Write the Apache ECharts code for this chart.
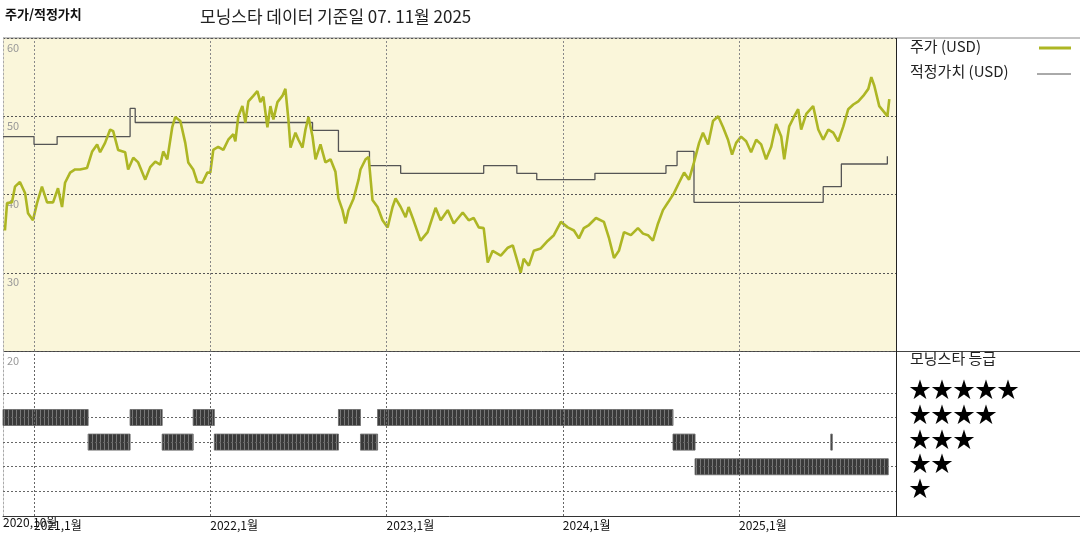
<!DOCTYPE html>
<html><head><meta charset="utf-8">
<script src="https://cdn.jsdelivr.net/npm/echarts@6/dist/echarts.min.js"></script>
<style>html,body{margin:0;padding:0;background:#fff}#c{width:1080px;height:540px}</style>
</head><body><div id="c"></div>
<script>
// time as decimal year
const priceDates = [2020.835,2020.847,2020.875,2020.892,2020.920,2020.949,2020.966,2020.994,2021.017,2021.045,2021.074,2021.108,2021.136,2021.159,2021.176,2021.205,2021.233,2021.261,2021.301,2021.330,2021.358,2021.375,2021.403,2021.432,2021.449,2021.477,2021.517,2021.534,2021.563,2021.591,2021.631,2021.659,2021.688,2021.716,2021.733,2021.756,2021.784,2021.801,2021.830,2021.858,2021.875,2021.903,2021.926,2021.955,2021.983,2022.000,2022.017,2022.045,2022.074,2022.102,2022.131,2022.142,2022.159,2022.182,2022.199,2022.216,2022.244,2022.267,2022.284,2022.301,2022.324,2022.341,2022.358,2022.381,2022.409,2022.426,2022.443,2022.455,2022.483,2022.500,2022.523,2022.540,2022.557,2022.580,2022.597,2022.625,2022.653,2022.682,2022.710,2022.727,2022.750,2022.767,2022.784,2022.813,2022.841,2022.852,2022.881,2022.898,2022.920,2022.949,2022.977,2023.006,2023.034,2023.051,2023.080,2023.108,2023.125,2023.153,2023.193,2023.233,2023.278,2023.307,2023.347,2023.381,2023.432,2023.466,2023.494,2023.523,2023.551,2023.574,2023.602,2023.648,2023.688,2023.716,2023.733,2023.761,2023.778,2023.807,2023.835,2023.875,2023.915,2023.949,2023.989,2024.028,2024.063,2024.091,2024.119,2024.148,2024.188,2024.233,2024.261,2024.290,2024.318,2024.347,2024.386,2024.426,2024.455,2024.483,2024.511,2024.540,2024.568,2024.597,2024.631,2024.659,2024.688,2024.716,2024.744,2024.773,2024.795,2024.824,2024.852,2024.881,2024.909,2024.937,2024.960,2024.983,2025.011,2025.040,2025.068,2025.097,2025.125,2025.153,2025.182,2025.210,2025.239,2025.256,2025.284,2025.313,2025.335,2025.352,2025.381,2025.420,2025.449,2025.477,2025.506,2025.534,2025.562,2025.591,2025.619,2025.648,2025.676,2025.704,2025.733,2025.750,2025.767,2025.795,2025.824,2025.841,2025.852];
const priceValues = [35.4,38.9,39.0,41.0,41.6,40.2,37.6,36.7,38.9,41.0,39.0,39.0,40.8,38.4,41.5,42.8,43.2,43.2,43.4,45.5,46.4,45.4,46.6,48.3,48.1,45.7,45.4,43.2,44.7,44.1,41.9,43.5,44.2,43.8,45.5,44.5,48.6,49.9,49.4,46.6,44.1,43.2,41.6,41.5,42.8,42.8,45.7,46.1,45.7,47.0,47.7,46.8,50.0,51.3,49.2,51.9,52.6,53.2,51.8,52.5,48.6,51.3,49.6,51.8,52.6,53.5,49.6,46.0,47.9,47.0,46.0,48.3,49.9,47.4,44.5,46.4,44.1,44.5,42.9,39.5,38.0,36.3,38.0,39.5,41.9,43.2,44.5,44.8,39.3,38.4,36.7,35.8,38.4,39.5,38.4,37.1,38.4,36.7,34.1,35.2,38.3,36.7,38.0,36.3,37.7,36.7,37.0,35.8,35.7,31.3,32.8,32.2,33.2,33.5,32.2,30.0,31.8,30.9,32.8,33.1,34.1,34.8,36.5,35.8,35.4,34.4,35.7,36.1,37.0,36.5,34.5,31.9,32.8,35.2,34.8,35.7,35.0,34.8,34.1,36.3,38.0,39.0,40.2,41.5,42.8,41.9,44.1,46.6,47.9,46.4,49.4,50.0,48.6,47.0,45.1,46.6,47.4,46.8,45.4,47.0,46.4,44.5,46.1,49.0,47.4,44.5,48.7,50.0,50.9,48.3,50.3,51.3,48.3,47.0,48.3,47.9,46.8,48.7,50.9,51.5,51.9,52.6,53.5,55.0,53.9,51.3,50.5,50.0,52.2];
const fairDates = [2020.824,2021.000,2021.131,2021.545,2021.574,2022.580,2022.727,2022.903,2023.080,2023.551,2023.739,2023.852,2024.182,2024.585,2024.648,2024.744,2025.477,2025.580,2025.841];
const fairValues = [47.4,46.4,47.4,51.0,49.2,48.2,45.5,43.7,42.7,43.7,42.7,41.9,42.7,43.7,45.5,39.0,41.0,43.9,44.9];
const ratingStart = [2020.824,2021.307,2021.545,2021.727,2021.903,2022.023,2022.727,2022.852,2022.949,2024.625,2024.750,2025.520];
const ratingEnd   = [2021.307,2021.545,2021.727,2021.903,2022.023,2022.727,2022.852,2022.949,2024.625,2024.750,2025.846,2025.525];
const ratingStars = [4,3,4,3,4,3,4,3,4,3,2,3];
const yearTicks = [2021,2022,2023,2024,2025];
const priceTicks = [20,30,40,50,60];
const starRows = [5,4,3,2,1];

const X0 = 2020.824, X1 = 2025.89;
const font = '"Noto Sans CJK KR", sans-serif';
const chart = echarts.init(document.getElementById('c'));
const vlines = {silent:true,symbol:'none',label:{show:false},lineStyle:{color:'#888',type:[2,2],width:1},data:yearTicks.map(v=>({xAxis:v}))};
const ratingData = ratingStart.map((s,i)=>[s,ratingEnd[i],ratingStars[i]]);
chart.setOption({
  animation:false,
  textStyle:{fontFamily:font},
  grid:[{left:3,top:38,width:893,height:313,show:true,backgroundColor:'#faf6da',borderWidth:0},
        {left:3,top:351,width:893,height:165,show:false}],
  xAxis:[{type:'value',gridIndex:0,min:X0,max:X1,axisLine:{show:false},axisTick:{show:false},axisLabel:{show:false},splitLine:{show:false}},
         {type:'value',gridIndex:1,min:X0,max:X1,axisLine:{show:true,lineStyle:{color:'#333'}},axisTick:{show:false},splitLine:{show:false},
          axisLabel:{customValues:yearTicks,formatter:v=>Math.round(v)+',1월',align:'left',color:'#111',fontSize:12,margin:3}}],
  yAxis:[{type:'value',gridIndex:0,min:20,max:60,interval:10,axisLine:{show:true,lineStyle:{color:'#aaa',type:[2,2]}},axisTick:{show:false},
          axisLabel:{inside:true,verticalAlign:'top',color:'#999',fontSize:11,margin:4,padding:[4,0,0,0]},
          splitLine:{lineStyle:{color:'#555',type:[2,2]}}},
         {type:'value',gridIndex:1,min:0,max:6.7,axisLine:{show:true,lineStyle:{color:'#aaa',type:[2,2]}},axisTick:{show:false},axisLabel:{show:false},splitLine:{show:false}}],
  series:[
    {type:'line',xAxisIndex:0,yAxisIndex:0,data:fairDates.map((d,i)=>[d,fairValues[i]]),step:'end',symbol:'none',lineStyle:{color:'#555',width:1.3},markLine:vlines,z:2},
    {type:'line',xAxisIndex:0,yAxisIndex:0,data:priceDates.map((d,i)=>[d,priceValues[i]]),symbol:'none',lineStyle:{color:'#adb624',width:2.6},z:3},
    {type:'custom',xAxisIndex:1,yAxisIndex:1,data:ratingData,
     renderItem:(p,api)=>{const a=api.coord([api.value(0),api.value(2)]);const b=api.coord([api.value(1),api.value(2)]);
       const w=Math.max(b[0]-a[0],1.5);
       return {type:'rect',shape:{x:a[0],y:a[1]-8,width:w,height:16},style:{fill:'#3a3a3a',stroke:'#666',lineWidth:0.5,
         decal:{symbol:'rect',symbolSize:1,dashArrayX:[[1,3]],dashArrayY:[1,0],color:'rgba(170,170,170,0.55)',rotation:0}}};},
     markLine:{silent:true,symbol:'none',label:{show:false},lineStyle:{color:'#666',type:[2,2],width:1},
       data:yearTicks.map(v=>({xAxis:v})).concat(starRows.map(v=>({yAxis:v})))},z:3}
  ],
  graphic:[
    {type:'text',left:5,top:8,style:{text:'주가/적정가치',font:'bold 13px '+font,fill:'#111'}},
    {type:'text',left:200,top:8,style:{text:'모닝스타 데이터 기준일 07. 11월 2025',font:'17px '+font,fill:'#222'}},
    {type:'text',left:3,top:516,style:{text:'2020,10월',font:'12px '+font,fill:'#111'}},
    {type:'line',shape:{x1:3,y1:38,x2:1080,y2:38},style:{stroke:'#888',lineWidth:1}},
    {type:'line',shape:{x1:3,y1:351.5,x2:1080,y2:351.5},style:{stroke:'#444',lineWidth:1}},
    {type:'line',shape:{x1:896,y1:516.5,x2:1080,y2:516.5},style:{stroke:'#444',lineWidth:1}},
    {type:'line',shape:{x1:896.5,y1:38,x2:896.5,y2:516},style:{stroke:'#222',lineWidth:1}},
    {type:'text',left:910,top:39,style:{text:'주가 (USD)',font:'15px '+font,fill:'#222'}},
    {type:'line',shape:{x1:1039,y1:48,x2:1071,y2:48},style:{stroke:'#adb624',lineWidth:3}},
    {type:'text',left:910,top:64,style:{text:'적정가치 (USD)',font:'15px '+font,fill:'#222'}},
    {type:'line',shape:{x1:1037,y1:74,x2:1071,y2:74},style:{stroke:'#555',lineWidth:1}},
    {type:'text',left:910,top:351,style:{text:'모닝스타 등급',font:'15px '+font,fill:'#222'}},
  ].concat(starRows.map((n,i)=>({type:'text',left:909,top:378+i*24.7,style:{text:'★'.repeat(n),font:'22px "Noto Sans CJK KR"',fill:'#000'}})))
});
</script></body></html>
